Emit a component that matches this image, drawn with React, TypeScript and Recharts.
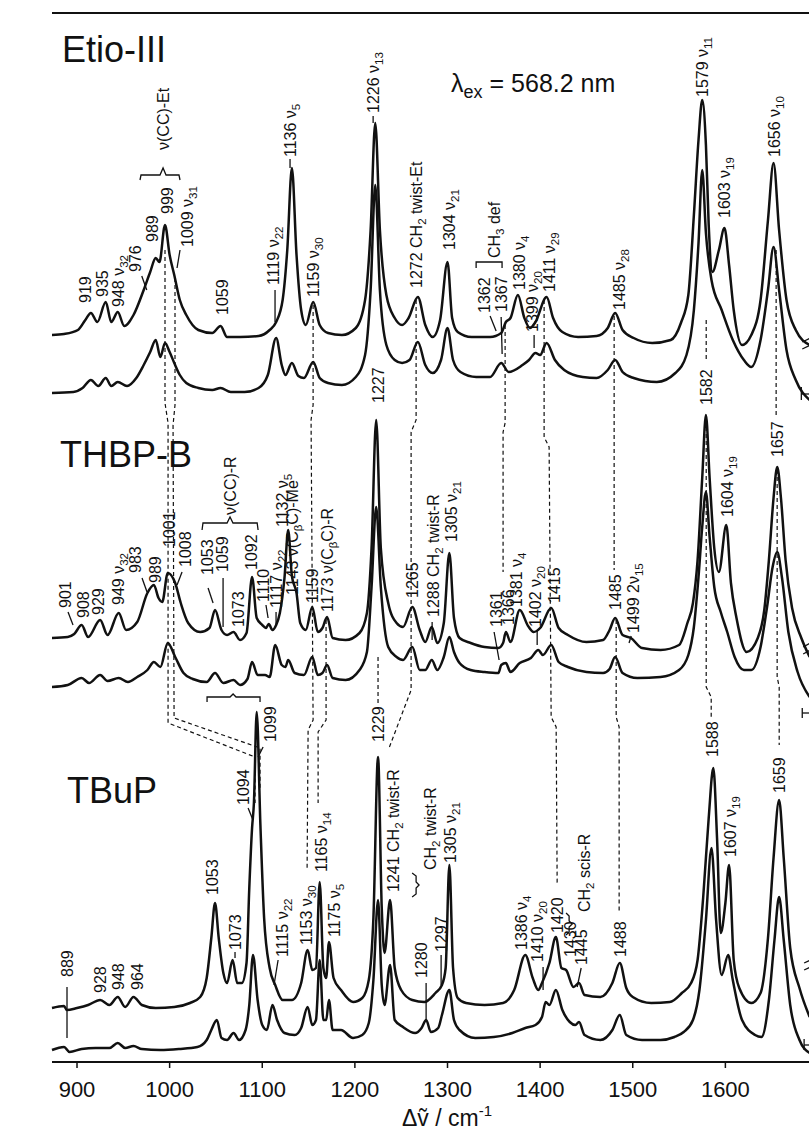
import React from 'react';
import { ComposedChart, Line, XAxis, YAxis, Scatter, ReferenceLine } from 'recharts';

type Pt = [number, number];

const FONT = '"Liberation Sans", Arial, Helvetica, sans-serif';
const INK = '#111';

// Raman shift (cm-1) vs. intensity, each trace relative to its own baseline
const etioTop: Pt[] = [
  [873, 0], [886, 1], [901, 5], [909, 15], [915, 22], [922, 13], [931, 33], [937, 13], [944, 23], [951, 9],
  [961, 20], [972, 45], [979, 63], [985, 77], [989, 73], [995, 110], [1000, 80], [1005, 60], [1011, 35],
  [1018, 20], [1031, 5], [1046, 2], [1055, 9], [1062, -2], [1076, -2], [1096, -1], [1108, 5], [1115, 13],
  [1122, 35], [1127, 85], [1132, 167], [1137, 80], [1142, 25], [1147, 10], [1155, 33], [1162, 10], [1171, 2],
  [1186, 0], [1201, 7], [1211, 35], [1217, 105], [1222, 212], [1227, 105], [1234, 40], [1243, 17], [1251, 10],
  [1258, 17], [1268, 38], [1276, 10], [1284, -2], [1292, 15], [1300, 73], [1305, 17], [1311, 3], [1326, -2],
  [1346, -2], [1358, 2], [1363, 13], [1368, 17], [1376, 40], [1383, 17], [1389, 7], [1395, 13], [1407, 38],
  [1414, 17], [1424, 3], [1441, -2], [1461, -1], [1473, 7], [1481, 22], [1489, 5], [1501, -3], [1521, -8],
  [1541, -5], [1552, 12], [1560, 40], [1566, 120], [1571, 195], [1575, 235], [1579, 190], [1582, 110],
  [1586, 63], [1593, 85], [1599, 107], [1604, 70], [1609, 25], [1618, -10], [1628, 0], [1638, 35], [1646, 115],
  [1652, 172], [1658, 105], [1666, 35], [1676, 5], [1691, -10],
];
const etioBottom: Pt[] = [
  [873, 0], [896, 1], [906, 5], [915, 13], [923, 7], [931, 15], [937, 7], [944, 11], [954, 7], [964, 15],
  [972, 28], [979, 41], [985, 53], [990, 36], [995, 50], [1000, 41], [1005, 30], [1011, 18], [1018, 10],
  [1031, 5], [1046, 3], [1055, 5], [1066, 1], [1081, 1], [1096, 5], [1106, 18], [1115, 55], [1121, 28],
  [1125, 18], [1132, 30], [1139, 17], [1145, 15], [1155, 31], [1162, 15], [1171, 10], [1186, 8], [1201, 16],
  [1211, 38], [1217, 103], [1222, 208], [1227, 103], [1234, 48], [1243, 33], [1251, 30], [1259, 33], [1268, 51],
  [1276, 28], [1284, 20], [1293, 33], [1300, 65], [1306, 33], [1314, 21], [1331, 16], [1346, 16], [1358, 30],
  [1366, 21], [1381, 28], [1388, 33], [1395, 40], [1400, 38], [1407, 50], [1416, 33], [1426, 23], [1446, 16],
  [1461, 15], [1473, 23], [1481, 33], [1489, 21], [1501, 15], [1526, 11], [1546, 20], [1558, 38], [1566, 83],
  [1571, 150], [1575, 223], [1579, 160], [1585, 113], [1596, 83], [1608, 53], [1620, 33], [1628, 26], [1638, 53],
  [1646, 103], [1652, 146], [1658, 103], [1666, 43], [1676, 13], [1691, -7],
];
const thbpTop: Pt[] = [
  [873, 0], [890, 1], [897, 4], [905, 13], [912, 1], [925, 18], [933, 3], [945, 25], [953, 8], [965, 16],
  [976, 45], [983, 53], [988, 40], [992, 36], [998, 65], [1006, 55], [1012, 35], [1020, 15], [1033, 6],
  [1043, 10], [1049, 28], [1056, 8], [1062, 3], [1069, 6], [1076, -2], [1083, 5], [1089, 61], [1094, 20],
  [1100, 13], [1104, 10], [1107, 14], [1111, 8], [1115, 13], [1119, 25], [1124, 60], [1128, 108], [1132, 62],
  [1137, 45], [1141, 15], [1147, 8], [1154, 31], [1160, 6], [1165, 10], [1170, 21], [1176, 0], [1190, -2],
  [1205, 5], [1213, 25], [1218, 90], [1223, 218], [1228, 90], [1236, 35], [1245, 15], [1252, 11], [1262, 31],
  [1270, 8], [1276, -4], [1283, 11], [1289, -5], [1296, 15], [1302, 85], [1307, 20], [1313, 0], [1325, -5],
  [1340, -9], [1355, -10], [1360, -5], [1363, 6], [1368, -4], [1378, 28], [1387, 12], [1393, 6], [1400, 10],
  [1412, 30], [1420, 10], [1430, 3], [1450, -4], [1468, -2], [1475, 8], [1481, 20], [1489, 3], [1498, 0],
  [1510, -10], [1530, -12], [1550, -7], [1559, 15], [1565, 35], [1570, 78], [1575, 160], [1579, 223],
  [1583, 160], [1588, 90], [1593, 66], [1601, 113], [1606, 55], [1612, 20], [1623, -14], [1635, 0], [1642, 28],
  [1647, 78], [1652, 140], [1656, 171], [1660, 140], [1665, 78], [1672, 30], [1682, 0], [1691, -19],
];
const thbpBottom: Pt[] = [
  [873, 0], [890, 2], [905, 9], [913, 4], [925, 12], [933, 6], [945, 9], [955, 5], [965, 10], [976, 17],
  [983, 25], [990, 20], [998, 44], [1006, 30], [1015, 14], [1025, 8], [1040, 5], [1049, 14], [1058, 4],
  [1069, 7], [1076, 2], [1084, 8], [1089, 25], [1095, 12], [1103, 12], [1108, 10], [1114, 42], [1121, 22],
  [1125, 20], [1128, 27], [1135, 14], [1145, 12], [1154, 30], [1160, 12], [1165, 14], [1170, 22], [1176, 9],
  [1190, 7], [1205, 17], [1213, 35], [1218, 100], [1223, 180], [1228, 100], [1236, 40], [1245, 30], [1252, 27],
  [1262, 40], [1270, 17], [1276, 17], [1283, 27], [1289, 17], [1296, 30], [1302, 50], [1307, 35], [1313, 24],
  [1325, 17], [1340, 15], [1355, 14], [1358, 22], [1363, 24], [1368, 15], [1378, 24], [1390, 29], [1398, 37],
  [1403, 32], [1412, 42], [1420, 25], [1430, 20], [1450, 15], [1468, 14], [1475, 18], [1481, 30], [1489, 14],
  [1505, 9], [1530, 10], [1550, 17], [1560, 32], [1566, 60], [1571, 110], [1575, 160], [1579, 195], [1583, 150],
  [1588, 100], [1595, 75], [1602, 55], [1610, 30], [1620, 17], [1628, 17], [1638, 40], [1645, 80], [1651, 120],
  [1656, 135], [1661, 110], [1668, 55], [1678, 15], [1691, -10],
];
const tbupTop: Pt[] = [
  [873, 0], [886, 2], [889, -2], [900, 0], [912, 3], [925, 8], [935, 3], [944, 11], [952, 1], [961, 11],
  [970, 3], [985, 0], [1005, 1], [1022, 5], [1033, 11], [1040, 30], [1045, 70], [1049, 105], [1053, 70],
  [1058, 35], [1062, 25], [1068, 48], [1073, 25], [1078, 25], [1083, 45], [1086, 120], [1089, 180], [1091, 205],
  [1094, 296], [1098, 183], [1102, 90], [1108, 40], [1114, 23], [1122, 8], [1132, 8], [1142, 25], [1149, 58],
  [1154, 38], [1158, 40], [1162, 126], [1166, 40], [1169, 30], [1172, 66], [1177, 30], [1185, 18], [1198, 6],
  [1208, 10], [1215, 28], [1220, 90], [1225, 251], [1229, 100], [1232, 55], [1238, 108], [1243, 40], [1250, 18],
  [1262, 8], [1275, 6], [1287, 15], [1294, 23], [1298, 40], [1302, 143], [1306, 40], [1311, 10], [1320, 5],
  [1340, 3], [1360, 5], [1372, 18], [1384, 53], [1392, 30], [1398, 18], [1402, 25], [1410, 45], [1417, 71],
  [1423, 40], [1428, 38], [1436, 21], [1442, 25], [1448, 13], [1465, 11], [1478, 25], [1486, 45], [1493, 20],
  [1500, 11], [1520, 5], [1540, 6], [1553, 15], [1563, 25], [1570, 48], [1576, 110], [1582, 190], [1587, 240],
  [1591, 170], [1595, 75], [1600, 105], [1604, 143], [1609, 48], [1615, 20], [1628, 5], [1638, 15], [1646, 70],
  [1652, 150], [1658, 208], [1663, 150], [1670, 60], [1680, 20], [1691, -9],
];
const tbupBottom: Pt[] = [
  [873, 0], [886, 3], [892, -2], [905, 1], [920, 2], [935, 2], [944, 7], [952, 2], [961, 4], [970, 1],
  [990, 0], [1010, 1], [1030, 3], [1040, 10], [1045, 20], [1051, 30], [1056, 12], [1062, 10], [1069, 17],
  [1075, 10], [1082, 20], [1086, 45], [1090, 95], [1095, 50], [1100, 25], [1105, 20], [1111, 45], [1116, 30],
  [1124, 17], [1135, 15], [1142, 22], [1149, 43], [1154, 25], [1158, 30], [1162, 90], [1166, 30], [1169, 30],
  [1172, 50], [1176, 20], [1185, 20], [1198, 12], [1208, 15], [1215, 27], [1220, 70], [1225, 150], [1229, 65],
  [1232, 45], [1238, 85], [1243, 30], [1252, 23], [1265, 17], [1272, 22], [1277, 30], [1282, 18], [1290, 22],
  [1294, 35], [1302, 60], [1307, 30], [1313, 20], [1330, 12], [1350, 13], [1370, 17], [1384, 22], [1395, 25],
  [1402, 33], [1406, 48], [1410, 45], [1417, 60], [1424, 40], [1432, 28], [1438, 25], [1442, 28], [1448, 15],
  [1465, 10], [1478, 20], [1486, 35], [1493, 15], [1510, 10], [1530, 10], [1545, 13], [1555, 18], [1565, 30],
  [1572, 60], [1579, 130], [1585, 202], [1590, 130], [1596, 75], [1603, 95], [1608, 70], [1618, 30], [1632, 15],
  [1639, 13], [1647, 50], [1653, 110], [1658, 153], [1663, 110], [1670, 45], [1680, 10], [1691, -3],
];

// stacking offsets of the six traces
const traceOffsets = [727, 669, 424, 375, 54, 12];
const traces = [etioTop, etioBottom, thbpTop, thbpBottom, tbupTop, tbupBottom];

const sampleNames: [string, number, number][] = [
  ['Etio-III', 883.8, 1000],
  ['THBP-B', 881.6, 595],
  ['TBuP', 889.2, 259],
];

// band assignments: [text, shift, height of text foot]
const peakLabels: [string, number, number][] = [
  ['919', 908.6, 759], ['935', 927, 765], ['948 ν_{32}', 944.3, 755], ['976', 962.6, 790],
  ['989', 981, 820], ['999', 997, 848], ['1009 ν_{31}', 1018.8, 815], ['ν(CC)-Et', 992.9, 912],
  ['1059', 1056.6, 747], ['1119 ν_{22}', 1111.7, 777], ['1136 ν_{5}', 1130, 905], ['1159 ν_{30}', 1154.9, 765],
  ['1226 ν_{13}', 1219.7, 949], ['1272 CH_{2} twist-Et', 1266.1, 774], ['1304 ν_{21}', 1301.7, 812],
  ['1362', 1339.5, 749], ['1367', 1357.9, 750], ['CH_{3} def', 1350.3, 804], ['1380 ν_{4}', 1377.3, 772],
  ['1399 ν_{20}', 1391.4, 730], ['1411 ν_{29}', 1409.7, 770], ['1485 ν_{28}', 1485.3, 752],
  ['1579 ν_{11}', 1575, 965], ['1603 ν_{19}', 1598.7, 844], ['1656 ν_{10}', 1652.7, 905],

  ['901', 887, 454], ['908', 906.5, 444], ['929', 922.7, 447], ['949 ν_{32}', 944.3, 457], ['983', 962.6, 489],
  ['989', 984.2, 479], ['1001', 999.4, 515], ['1008', 1016.6, 495], ['ν(CC)-R', 1065.2, 547],
  ['1053', 1040.4, 487], ['1059', 1056.6, 490], ['1073', 1073.9, 435], ['1092', 1087.9, 492],
  ['1110', 1100.9, 460], ['1117 ν_{22}', 1114.9, 454], ['1132 ν_{5}', 1121.4, 535],
  ['1143 ν(C_{β}C)-Me', 1132.2, 467], ['1159', 1153.8, 459], ['1173 ν(C_{β}C)-R', 1170, 450],
  ['1227', 1225, 659], ['1265', 1261.8, 464], ['1288 CH_{2} twist-R', 1284.4, 445], ['1305 ν_{21}', 1303.9, 520],
  ['1361', 1352.5, 435], ['1366', 1365.4, 437], ['1381 ν_{4}', 1374.1, 455], ['1402 ν_{20}', 1394.6, 435],
  ['1415', 1415.1, 459], ['1485', 1481, 452], ['1499 2ν_{15}', 1500.4, 429], ['1582', 1579.3, 657],
  ['1604 ν_{19}', 1601.9, 545], ['1657', 1655.9, 605],

  ['889', 889.2, 85], ['928', 924.8, 69], ['948', 944.3, 72], ['964', 964.8, 72], ['1053', 1045.8, 167],
  ['1073', 1070.6, 112], ['1094', 1079.3, 257], ['1099', 1108.4, 320], ['1115 ν_{22}', 1121.4, 105],
  ['1153 ν_{30}', 1147.3, 117], ['1165 ν_{14}', 1163.5, 190], ['1175 ν_{5}', 1177.5, 125], ['1229', 1225, 320],
  ['1241 CH_{2} twist-R', 1241.3, 170], ['1280', 1271.5, 84], ['1297', 1293.1, 110], ['CH_{2} twist-R', 1281.2, 192],
  ['1305 ν_{21}', 1302.8, 199], ['1386 ν_{4}', 1379.5, 112], ['1410 ν_{20}', 1396.8, 100], ['1420', 1418.4, 129],
  ['1430', 1432.4, 105], ['1445', 1444.3, 97], ['CH_{2} scis-R', 1447.5, 150], ['1488', 1486.4, 105],
  ['1588', 1585.7, 305], ['1607 ν_{19}', 1605.2, 205], ['1659', 1658.1, 269],
];

// leader ticks, braces and the baseline marks at the right edge
const leaders: Pt[][] = [
  [[969.9, 786], [975.3, 772]], [[1011.2, 812], [1008, 794]], [[1113.8, 772], [1113.8, 740]],
  [[1130, 903], [1130, 894]], [[1219.7, 946], [1219.7, 939]], [[1346, 746], [1352.5, 731]],
  [[1357.9, 745], [1359, 708]], [[1393.5, 727], [1393.5, 714]],
  [[890.3, 450], [895.7, 437]], [[970.2, 484], [975.6, 470]], [[1013.4, 490], [1008, 477]],
  [[1041.5, 474], [1046.9, 459]], [[1057.7, 484], [1057.7, 435]], [[1104, 457], [1106.3, 444]],
  [[1114.9, 450], [1114.9, 437]], [[1283.4, 440], [1283.4, 422]], [[1350.3, 430], [1355.7, 402]],
  [[1396.8, 432], [1396.8, 417]], [[1498.3, 426], [1496, 419]],
  [[889.2, 75], [889.2, 24]], [[1070.6, 110], [1070.6, 104]], [[1084.7, 254], [1090, 242]],
  [[1100.9, 315], [1095.5, 305]], [[1117.1, 102], [1112.7, 77]], [[1276.9, 79], [1276.9, 42]],
  [[1293.1, 107], [1293.1, 77]], [[1403.2, 95], [1403.2, 72]], [[1444.3, 94], [1440, 75]],
  [[968, 882], [969.1, 887], [989.6, 887], [992.9, 894], [996.1, 887], [1010.1, 887], [1011.2, 882]],
  [[1330.9, 794], [1330.9, 800], [1358.9, 800], [1358.9, 794]],
  [[1035, 532], [1036, 539], [1062, 539], [1065.2, 545], [1068.4, 539], [1094.5, 539], [1095.5, 532]],
  [[1040.4, 360], [1040.4, 365], [1065.2, 365], [1068.5, 368], [1071.7, 365], [1097.6, 365], [1097.6, 360]],
  [[1261.8, 189], [1266.1, 186], [1266.1, 180], [1269.3, 177], [1266.1, 174], [1266.1, 168], [1261.8, 165]],
  [[1428, 149], [1431.3, 146], [1431.3, 141], [1434.6, 138], [1431.3, 135], [1431.3, 130], [1428, 127]],
  [[1683, 713], [1692, 717]], [[1683, 720], [1692, 724]], [[1682, 675], [1682, 662]], [[1682, 668], [1692, 668]],
  [[1684, 408], [1692, 412]], [[1684, 415], [1692, 419]], [[1683, 354], [1683, 344]], [[1683, 349], [1692, 349]],
  [[1685, 92], [1692, 95]], [[1685, 99], [1692, 102]], [[1685, 23], [1685, 12]], [[1685, 17], [1692, 17]],
];

// dashed correlation lines between the three compounds
const correlations: Pt[][] = [
  [[995, 812], [995, 659], [998.3, 639], [998.3, 339], [1092.2, 305], [1092.2, 259]],
  [[1005.8, 784], [1005.8, 657], [1003.7, 637], [1004.8, 344], [1097.6, 314], [1097.6, 272]],
  [[1154.9, 757], [1154.9, 657], [1152.7, 642], [1154.9, 342], [1149.5, 332], [1148.4, 192]],
  [[1168.9, 442], [1168.9, 342], [1160.3, 330], [1160.3, 259]],
  [[1225, 405], [1225, 357]],
  [[1266.1, 762], [1266.1, 642], [1260.7, 630], [1260.7, 372], [1236.9, 314]],
  [[1362.2, 737], [1362.2, 639], [1360, 630], [1360, 490]],
  [[1404.3, 762], [1404.3, 625], [1409.7, 615], [1411.9, 345], [1417.3, 335], [1418.4, 177]],
  [[1479.9, 746], [1479.9, 492]],
  [[1482.1, 442], [1482.1, 345], [1485.3, 335], [1485.3, 150]],
  [[1579.3, 742], [1579.3, 702]],
  [[1579.3, 642], [1579.3, 375], [1584.7, 365], [1584.7, 344]],
  [[1654.8, 812], [1654.8, 647]],
  [[1655.9, 592], [1655.9, 385], [1658.1, 375], [1658.1, 317]],
];

const xTicks = [900, 1000, 1100, 1200, 1300, 1400, 1500, 1600];

const rows = (pts: Pt[], base = 0) => pts.map(([x, y]) => ({ x, y: y + base }));

function rich(str: string, size: number) {
  const out: React.ReactNode[] = [];
  const re = /_\{([^}]*)\}/g;
  let last = 0;
  let shifted = false;
  let k = 0;
  let m: RegExpExecArray | null;
  const sh = size * 0.28;
  while ((m = re.exec(str))) {
    if (m.index > last) {
      out.push(<tspan key={k++} dy={shifted ? -sh : undefined}>{str.slice(last, m.index)}</tspan>);
      shifted = false;
    }
    out.push(<tspan key={k++} fontSize={size * 0.72} dy={shifted ? undefined : sh}>{m[1]}</tspan>);
    shifted = true;
    last = re.lastIndex;
  }
  if (last < str.length) out.push(<tspan key={k++} dy={shifted ? -sh : undefined}>{str.slice(last)}</tspan>);
  return out;
}

const PeakText = (p: any) => {
  const size = 16;
  return (
    <text transform={`translate(${p.cx},${p.cy}) rotate(-90)`} x={0} y={size * 0.36}
      fontSize={size} fontFamily={FONT} fill={INK}>
      {rich(p.payload.t, size)}
    </text>
  );
};

const NameText = (p: any) => (
  <text x={p.cx} y={p.cy} fontSize={36} fontFamily={FONT} fill={INK}>{p.payload.t}</text>
);

const XLabel = (p: any) => {
  const vb = p.viewBox || { x: 52, y: 1062 };
  return (
    <text x={vb.x + 350} y={vb.y + 64} fontSize={23} fontFamily={FONT} fill={INK}>
      Δṽ / cm<tspan dy={-10} fontSize={15}>-1</tspan>
    </text>
  );
};

const YLabel = (p: any) => {
  const vb = p.viewBox || { x: 52, y: 13 };
  const ax = vb.x - 29;
  return (
    <g>
      <text transform={`translate(${vb.x - 19},670) rotate(-90)`} fontSize={25} fontFamily={FONT} fill={INK}>
        INTENSITY
      </text>
      <line x1={ax} y1={520} x2={ax} y2={462} stroke={INK} strokeWidth={2} />
      <polygon points={`${ax},449 ${ax - 6},467 ${ax + 6},467`} fill={INK} />
    </g>
  );
};

export default function App() {
  const labelRows = peakLabels.map(([t, x, y]) => ({ t, x, y }));
  const nameRows = sampleNames.map(([t, x, y]) => ({ t, x, y }));
  return (
    <div style={{ position: 'fixed', left: 0, top: 0, width: 809, height: 1133, overflow: 'hidden', background: '#fff' }}>
      <ComposedChart width={830} height={1133} margin={{ top: 13, right: 12, bottom: 31, left: 52 }}>
        <XAxis type="number" dataKey="x" domain={[873, 1700]} ticks={xTicks} height={40}
          axisLine={{ stroke: INK, strokeWidth: 2 }} tickLine={{ stroke: INK, strokeWidth: 1.5 }} tickSize={6}
          tickMargin={13} tick={{ fontSize: 22, fill: INK, fontFamily: FONT }} label={{ content: XLabel }} />
        <YAxis type="number" dataKey="y" domain={[0, 1049]} width={0} tick={false} tickLine={false}
          axisLine={{ stroke: INK, strokeWidth: 2 }} label={{ content: YLabel }} />
        <ReferenceLine y={1049} stroke={INK} strokeWidth={2} />
        {traces.map((t, i) => (
          <Line key={'t' + i} data={rows(t, traceOffsets[i])} dataKey="y" type="monotone" stroke={INK}
            strokeWidth={2.5} dot={false} activeDot={false} isAnimationActive={false} />
        ))}
        {correlations.map((c, i) => (
          <Line key={'c' + i} data={rows(c)} dataKey="y" type="linear" stroke={INK} strokeWidth={1.2}
            strokeDasharray="4 3" dot={false} activeDot={false} isAnimationActive={false} />
        ))}
        {leaders.map((c, i) => (
          <Line key={'l' + i} data={rows(c)} dataKey="y" type="linear" stroke={INK} strokeWidth={1.3}
            dot={false} activeDot={false} isAnimationActive={false} />
        ))}
        <Scatter data={labelRows} shape={PeakText} isAnimationActive={false} />
        <Scatter data={nameRows} shape={NameText} isAnimationActive={false} />
        <Scatter data={[{ x: 1303.9, y: 970, t: '' }]} isAnimationActive={false}
          shape={(p: any) => (
            <text x={p.cx} y={p.cy} fontSize={25} fontFamily={FONT} fill={INK}>
              λ<tspan fontSize={18} dy={6}>ex</tspan><tspan dy={-6}> = 568.2 nm</tspan>
            </text>
          )} />
      </ComposedChart>
    </div>
  );
}
